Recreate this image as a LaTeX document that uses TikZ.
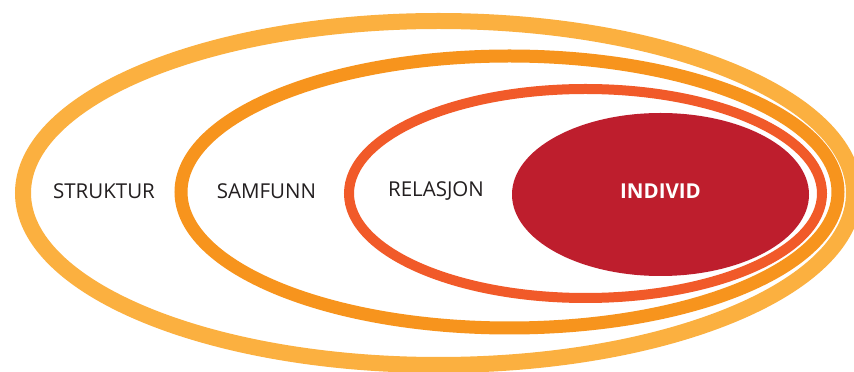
\documentclass[tikz,border=0pt]{standalone}
\usepackage{fontspec}
\setmainfont{Open Sans}
\definecolor{ringA}{HTML}{FBB040}
\definecolor{ringB}{HTML}{F7941D}
\definecolor{ringC}{HTML}{F15A29}
\definecolor{coreD}{HTML}{BE1E2D}
\definecolor{txt}{HTML}{231F20}
\begin{document}
\begin{tikzpicture}[x=1pt,y=1pt,
  lbl/.style={font=\fontsize{20.5}{24}\selectfont, text=txt, inner sep=0pt, anchor=center},
  corelbl/.style={font=\fontsize{20.5}{24}\selectfont\bfseries, text=white, inner sep=0pt, anchor=center}]
\useasboundingbox (0,0) rectangle (854,372);
\fill[white] (0,0) rectangle (854,372);
\draw[ringA, line width=16pt] (438.5,179) ellipse [x radius=415.5, y radius=172];
\draw[ringB, line width=13pt] (509.5,180) ellipse [x radius=328.5, y radius=136];
\draw[ringC, line width=10pt] (585.5,178.5) ellipse [x radius=236.5, y radius=104.5];
\fill[coreD] (660.5,177.5) ellipse [x radius=148.5, y radius=81.5];
\node[lbl] (struktur) at (104,181) {STRUKTUR};
\node[lbl] (samfunn) at (266.5,181) {SAMFUNN};
\node[lbl] (relasjon) at (436,181) {RELASJON};
\node[corelbl] (individ) at (660.5,181) {INDIVID};
\end{tikzpicture}
\end{document}
